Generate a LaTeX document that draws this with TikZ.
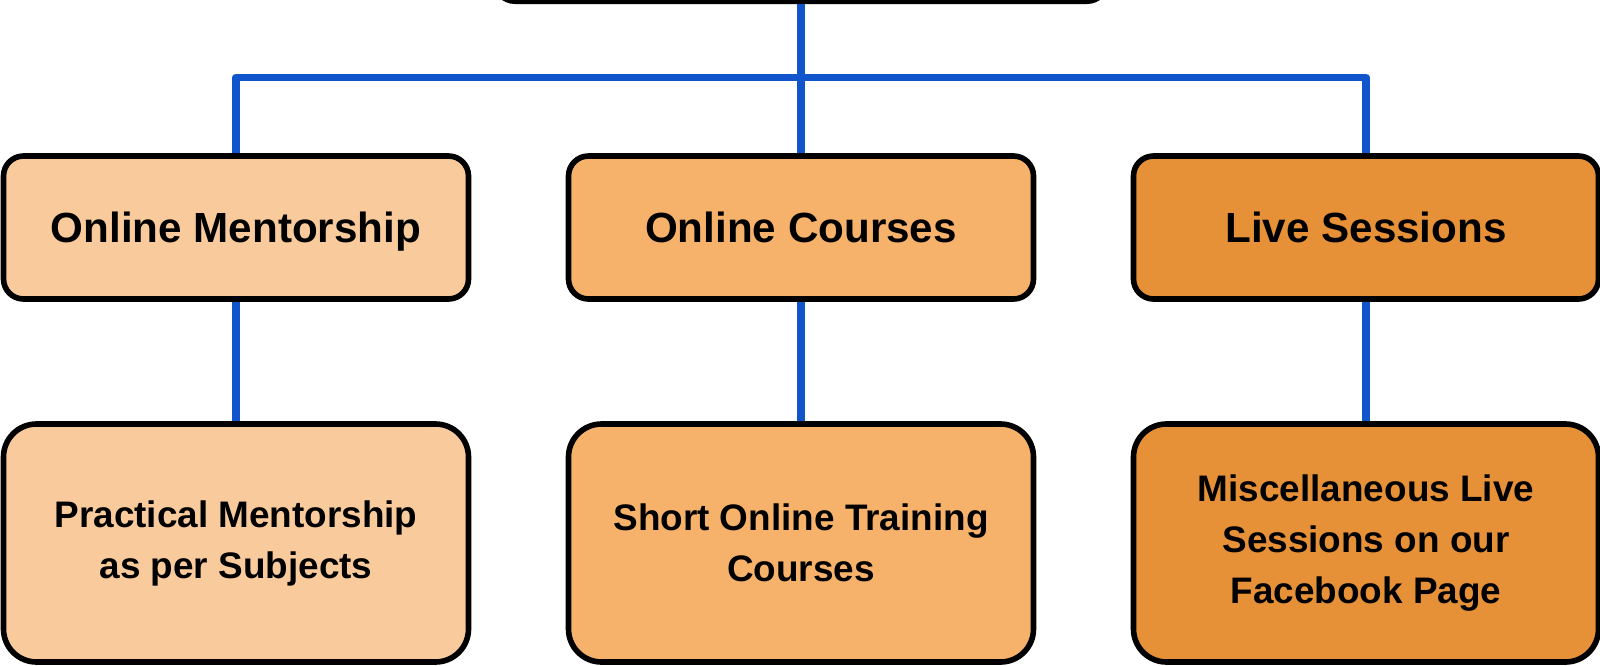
\documentclass[tikz,border=0pt]{standalone}
\usepackage{fontspec}
\setmainfont{Liberation Sans}
\usetikzlibrary{positioning}

\definecolor{peachlight}{HTML}{F9CB9C}
\definecolor{peachmid}{HTML}{F6B26B}
\definecolor{peachdark}{HTML}{E69138}
\definecolor{linkblue}{HTML}{1155CC}

\begin{document}
\begin{tikzpicture}[x=0.1mm,y=0.1mm]
  \tikzstyle{box}=[draw=black,line width=1.6pt,rounded corners=2mm,align=center,text=black,inner sep=0pt]
  \tikzstyle{head}=[box,minimum width=46.5mm,minimum height=14.3mm,text depth=0pt,font=\fontsize{12}{14}\selectfont\bfseries]
  \tikzstyle{leaf}=[box,minimum width=46.5mm,minimum height=23.8mm,rounded corners=3.3mm,font=\fontsize{10.5}{14.5}\selectfont\bfseries]
  \tikzstyle{link}=[draw=linkblue,line width=2.2pt,line join=round]
  \useasboundingbox (0,0) rectangle (1600,665);
  \node[box,minimum width=61.2mm,minimum height=17.8mm,anchor=south] (root) at (801,661) {};
  \foreach \n/\x/\col/\a/\b in {%
      mentor/236/peachlight/Online Mentorship/{Practical Mentorship\\as per Subjects},
      courses/801/peachmid/Online Courses/{Short Online Training\\Courses},
      live/1366/peachdark/Live Sessions/{Miscellaneous Live\\Sessions on our\\Facebook Page}}
    {
      \node[head,fill=\col] (\n) at (\x,437.5) {\a};
      \node[leaf,fill=\col] (\n-sub) at (\x,122) {\b};
      \draw[link] (\n.south) -- (\n-sub.north);
    }
  \coordinate (fork) at (801,587.5);
  \draw[link] (root.south) -- (courses.north);
  \draw[link] (mentor.north) |- (fork) -| (live.north);
\end{tikzpicture}
\end{document}
